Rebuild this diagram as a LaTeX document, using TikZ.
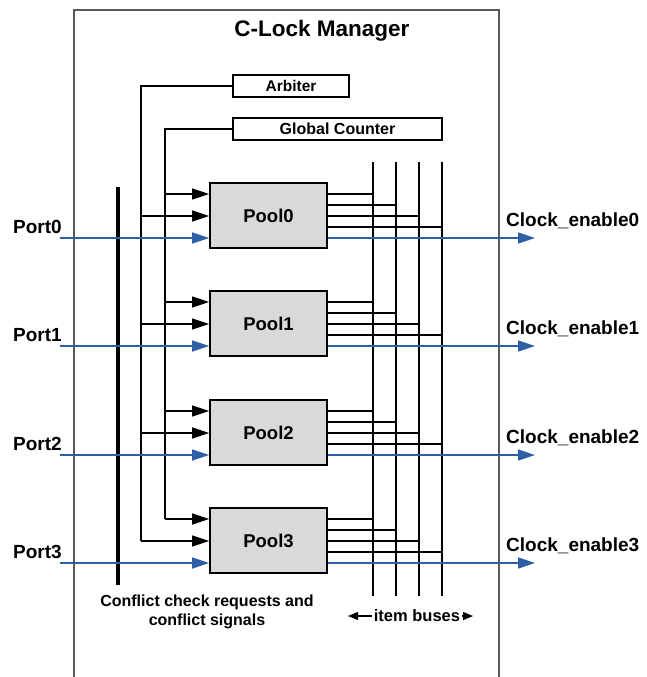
\documentclass[tikz,border=0pt]{standalone}
\usepackage{fontspec}
\setmainfont{Liberation Sans}
\usetikzlibrary{arrows.meta}
\definecolor{sigblue}{RGB}{46,94,166}
\definecolor{poolfill}{RGB}{217,217,217}
\definecolor{framegray}{RGB}{90,90,90}
\tikzset{
  wire/.style={line width=1.5pt, black},
  arr/.style={wire, -{Triangle[length=17pt,width=11pt]}},
  bluearr/.style={line width=1.6pt, sigblue, -{Triangle[length=17pt,width=11pt]}},
  pool/.style={draw, line width=1.8pt, fill=poolfill, minimum width=117pt, minimum height=65pt, inner sep=0pt, font=\fontsize{18.5}{22}\selectfont\bfseries},
  unitbox/.style={draw, line width=1.8pt, fill=white, minimum height=22pt, inner sep=0pt},
  lbl/.style={inner sep=0pt, font=\fontsize{19}{23}\selectfont\bfseries},
}
\begin{document}
\begin{tikzpicture}[x=1pt,y=-1pt]
\useasboundingbox (0,0) rectangle (646,677);

% manager frame (open at the bottom)
\draw[framegray, line width=1.2pt] (74,677) -- (74,10) -- (499,10) -- (499,677);
\node[inner sep=0pt, anchor=base, font=\fontsize{22.5}{26}\selectfont\bfseries] (title) at (322,37) {C-Lock Manager};

% shared units
\node[unitbox, minimum width=116pt, font=\fontsize{15.5}{18}\selectfont\bfseries] (arb) at (291,86) {Arbiter};
\node[unitbox, minimum width=209pt, font=\fontsize{16}{19}\selectfont\bfseries] (gc) at (337.5,129) {Global Counter};

% conflict check line
\coordinate (cTop) at (118,187);
\coordinate (cBot) at (118,585);
\draw[line width=3.5pt] (cTop) -- (cBot);

% item buses
\foreach \i/\x in {1/373,2/396,3/419,4/442} {
  \coordinate (bt\i) at (\x,162);
  \coordinate (bb\i) at (\x,596);
  \draw[wire] (bt\i) -- (bb\i);
}

% trunks from arbiter and global counter
\coordinate (aEnd) at (141,541);
\coordinate (gEnd) at (165,519);
\draw[wire] (arb.west) -| (aEnd);
\draw[wire] (gc.west) -| (gEnd);

% pools with their ports and outputs
\foreach \k/\t in {0/183,1/291,2/400,3/508} {
  \node[pool] (p\k) at (268.5,\t+32.5) {Pool\k};
  \coordinate (g\k) at (165,\t+11);
  \coordinate (a\k) at (141,\t+33);
  \coordinate (in\k) at (60,\t+55);
  \coordinate (ce\k) at (535,\t+55);
  \draw[arr] (g\k) -- (p\k.west |- g\k);
  \draw[arr] (a\k) -- (p\k.west |- a\k);
  \draw[bluearr] (in\k) -- (p\k.west |- in\k);
  \draw[bluearr] (p\k.east |- ce\k) -- (ce\k);
  \coordinate (o\k1) at (373,\t+11);
  \coordinate (o\k2) at (396,\t+22);
  \coordinate (o\k3) at (419,\t+33);
  \coordinate (o\k4) at (442,\t+44);
  \foreach \j in {1,2,3,4} {
    \draw[wire] (p\k.east |- o\k\j) -- (o\k\j);
  }
  \node[lbl, anchor=base west] (port\k) at (13,\t+50) {Port\k};
  \node[lbl, anchor=base west] (clk\k) at (506,\t+43) {Clock\_enable\k};
}

% captions
\node[inner sep=0pt, align=center, font=\fontsize{16}{19}\selectfont\bfseries] (conf) at (207,612) {Conflict check requests and\\conflict signals};
\node[inner sep=2pt, font=\fontsize{16.5}{19}\selectfont\bfseries] (ib) at (417,616) {item buses};
\draw[line width=1.2pt, -{Triangle[length=10pt,width=8pt]}] (ib.west) -- (348,616);
\draw[line width=1.2pt, -{Triangle[length=10pt,width=8pt]}] (ib.east) -- (473,616);
\end{tikzpicture}
\end{document}
